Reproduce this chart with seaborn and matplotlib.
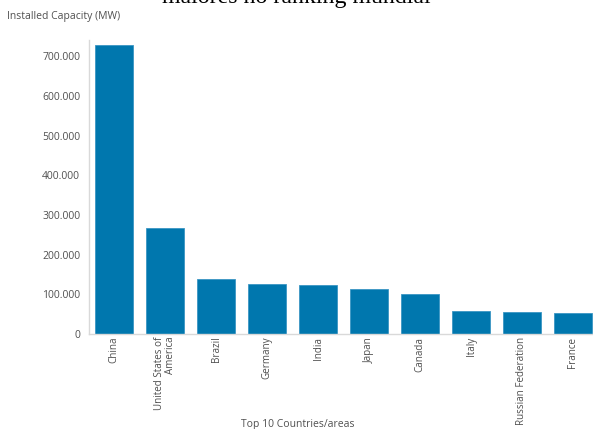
import matplotlib
matplotlib.use("Agg")
import matplotlib.pyplot as plt
import seaborn as sns
import pandas as pd

countries = ["China", "United States of\nAmerica", "Brazil", "Germany", "India",
             "Japan", "Canada", "Italy", "Russian Federation", "France"]
capacity = [728000, 267000, 138000, 126000, 123000, 113000, 101000, 58000, 55000, 53000]
yticks = [0, 100000, 200000, 300000, 400000, 500000, 600000, 700000]
ytick_labels = ["0", "100.000", "200.000", "300.000", "400.000", "500.000", "600.000", "700.000"]

df = pd.DataFrame({"country": countries, "capacity": capacity})

sns.set_style("white")
plt.rcParams["font.family"] = ["Open Sans", "DejaVu Sans"]

fig = plt.figure(figsize=(5.93, 4.29), dpi=100)
# axes: x from 88.5px to 598.5px, y zero at 334px, 100k = 39.7px
ax = fig.add_axes([88.5 / 593, (429 - 334) / 429, 510 / 593, (334 - 40) / 429])

sns.barplot(data=df, x="country", y="capacity", color="#0077ae", width=0.745,
            saturation=1, edgecolor="#3a96c4", linewidth=0.6, ax=ax)

ax.set_ylim(0, 294 / 39.7 * 100000)
ax.set_xlim(-0.5, 9.5)
ax.set_yticks(yticks)
ax.set_yticklabels(ytick_labels, fontsize=7.5, color="#505050")
ax.set_xticks(range(len(countries)))
ax.set_xticklabels(countries, rotation=90, fontsize=7.1, color="#505050",
                   va="top", ha="center", linespacing=1.0, multialignment="right")
ax.tick_params(axis="y", length=0, pad=6)
ax.tick_params(axis="x", length=0, pad=2)
ax.set_xlabel("")
ax.set_ylabel("")

for s in ["top", "right"]:
    ax.spines[s].set_visible(False)
for s in ["left", "bottom"]:
    ax.spines[s].set_color("#d9d9d9")
    ax.spines[s].set_linewidth(1.0)

fig.text(7 / 593, 1 - 17 / 429, "Installed Capacity (MW)", fontsize=7.5,
         color="#505050", va="center", ha="left")
fig.text(298 / 593, 1 - 424 / 429, "Top 10 Countries/areas", fontsize=7.5,
         color="#505050", va="center", ha="center")
fig.text(296 / 593, 1 - 3 / 429, "maiores no ranking mundial", fontsize=17.2,
         family="Liberation Serif", color="black", va="baseline", ha="center")

fig.savefig("out.png", dpi=100)
